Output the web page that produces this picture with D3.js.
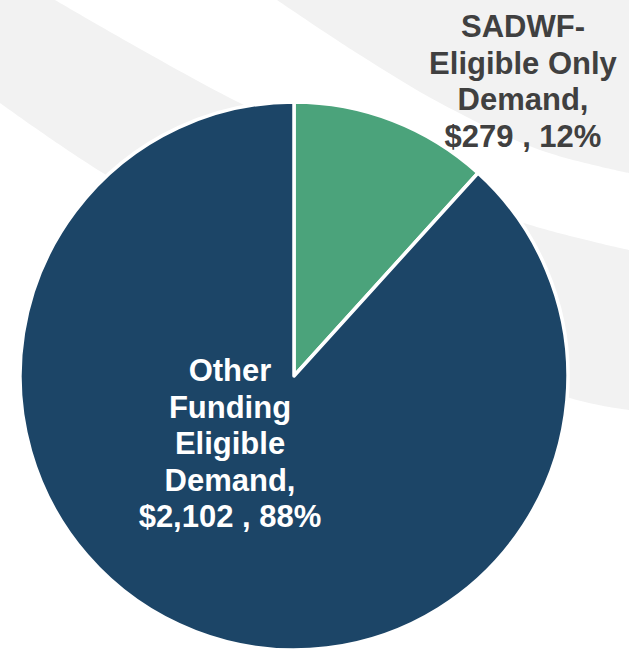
<!DOCTYPE html>
<html>
<head>
<meta charset="utf-8">
<script src="https://cdn.jsdelivr.net/npm/d3@7/dist/d3.min.js"></script>
<style>
  html, body { margin: 0; padding: 0; background: #ffffff; }
  svg { display: block; }
</style>
</head>
<body>
<svg id="chart" width="629" height="650"></svg>
<script>
// ---- data ----
const categories = ["SADWF-Eligible Only Demand", "Other Funding Eligible Demand"];
const values = [279, 2102];
const percents = ["12%", "88%"];
const labelLines = [
  ["SADWF-", "Eligible Only", "Demand,", "$279 , 12%"],
  ["Other", "Funding", "Eligible", "Demand,", "$2,102 , 88%"]
];
const colors = ["#4BA37B", "#1C4567"];
const labelColors = ["#404040", "#FFFFFF"];

// ---- layout ----
const W = 629, H = 650;
const cx = 294, cy = 376, R = 274;
const svg = d3.select("#chart");

// decorative background swooshes
const bg = svg.append("g");
const curve = d3.line().curve(d3.curveCatmullRom.alpha(0.5));
const upperEdge = [[55,0],[240,103],[420,183],[527,224],[629,250]];
const lowerEdge = [[0,103],[103,173],[330,300],[570,398],[629,410]];
bg.append("path")
  .attr("d", "M0,0 " + curve(upperEdge).replace(/^M/, "L") + " L629,410 " +
        curve(lowerEdge.slice().reverse()).replace(/^M/, "L") + " Z")
  .attr("fill", "#F2F2F2");
const trEdge = [[277,0],[360,55],[440,103],[540,150],[629,173]];
bg.append("path")
  .attr("d", curve(trEdge) + " L629,0 Z")
  .attr("fill", "#F2F2F2");

// pie
const pie = d3.pie().sort(null).value(d => d)(values);
const arc = d3.arc().innerRadius(0).outerRadius(R);
const g = svg.append("g").attr("transform", `translate(${cx},${cy})`);
g.selectAll("path.slice").data(pie).enter().append("path")
  .attr("class", "slice")
  .attr("d", arc)
  .attr("fill", (d, i) => colors[i])
  .attr("stroke", "#ffffff")
  .attr("stroke-width", 3.5)
  .attr("stroke-linejoin", "round");

// labels
const labelPos = [[523, 37], [230, 381]];
const lineH = 36.5;
const fontSize = 31;
labelLines.forEach((lines, i) => {
  const t = svg.append("text")
    .attr("text-anchor", "middle")
    .attr("font-family", "Liberation Sans, Arial, sans-serif")
    .attr("font-weight", "bold")
    .attr("font-size", fontSize)
    .attr("fill", labelColors[i]);
  lines.forEach((ln, j) => {
    t.append("tspan")
      .attr("x", labelPos[i][0])
      .attr("y", labelPos[i][1] + j * lineH)
      .text(ln);
  });
});
</script>
</body>
</html>
